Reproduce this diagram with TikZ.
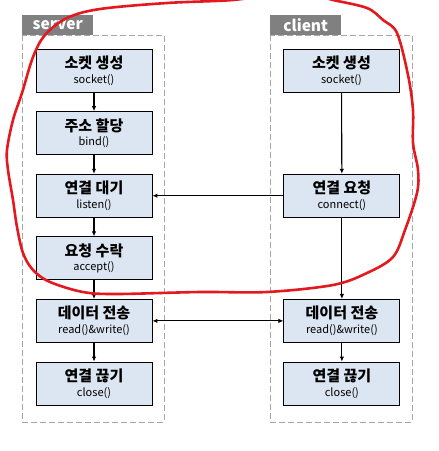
\documentclass[tikz,border=0pt]{standalone}
\usepackage{fontspec}
\setmainfont{Noto Sans CJK KR}
\usetikzlibrary{positioning,arrows.meta}

\definecolor{boxfill}{HTML}{DCE6F2}
\definecolor{tabgray}{HTML}{808080}
\definecolor{framegray}{HTML}{A6A6A6}
\definecolor{penred}{HTML}{E3191F}

\newcommand{\steptext}[2]{{\fontsize{15}{16}\selectfont\bfseries #1}\\[2.5pt]{\fontsize{11}{12}\selectfont #2}}

\begin{document}
\begin{tikzpicture}[
    x=1pt, y=-1pt,
    node distance=18.7pt,
    stepbox/.style={rectangle, draw=black, line width=0.9pt, fill=boxfill,
        minimum width=116pt, minimum height=43pt, inner sep=1pt, align=center},
    tab/.style={rectangle, fill=tabgray, text=white, anchor=south west,
        minimum width=71pt, minimum height=20pt, inner sep=0pt,
        font=\fontsize{15.5}{16}\selectfont\bfseries},
    frame/.style={draw=framegray, line width=0.9pt, dash pattern=on 6pt off 3pt},
    flow/.style={draw, line width=1.1pt, -{Latex[length=5pt,width=4.5pt]}},
    both/.style={draw, line width=1.1pt, {Latex[length=5pt,width=4.5pt]}-{Latex[length=5pt,width=4.5pt]}},
    scribble/.style={draw=penred, line width=2.6pt, line cap=round, line join=round}
]
\useasboundingbox[fill=white] (0,0) rectangle (439,451);

% server and client frames
\draw[frame] (22,35) rectangle (164,422);
\draw[frame] (270,35) rectangle (412,422);
\node[tab] (stab) at (22,35) {server};
\node[tab] (ctab) at (270,35) {client};

% server side
\node[stepbox] (ssock) at (94,70.5) {\steptext{소켓 생성}{socket()}};
\node[stepbox, below=of ssock] (sbind) {\steptext{주소 할당}{bind()}};
\node[stepbox, below=of sbind] (slisten) {\steptext{연결 대기}{listen()}};
\node[stepbox, below=of slisten] (saccept) {\steptext{요청 수락}{accept()}};
\node[stepbox, below=of saccept] (sdata) {\steptext{데이터 전송}{read()\&write()}};
\node[stepbox, below=of sdata] (sclose) {\steptext{연결 끊기}{close()}};

% client side
\node[stepbox] (csock) at (341.5,70.5) {\steptext{소켓 생성}{socket()}};
\node[stepbox, right=131pt of slisten] (cconn) {\steptext{연결 요청}{connect()}};
\node[stepbox, right=131pt of sdata] (cdata) {\steptext{데이터 전송}{read()\&write()}};
\node[stepbox, below=of cdata] (cclose) {\steptext{연결 끊기}{close()}};

% flow
\draw[flow] (ssock) -- (sbind);
\draw[flow] (sbind) -- (slisten);
\draw[flow] (slisten) -- (saccept);
\draw[flow] (saccept) -- (sdata);
\draw[flow] (sdata) -- (sclose);
\draw[flow] (csock) -- (cconn);
\draw[flow] (cconn) -- (cdata);
\draw[flow] (cdata) -- (cclose);
\draw[flow] (cconn) -- (slisten);
\draw[both] (sdata) -- (cdata);

% hand-drawn red loop
\begin{scope}
\clip (0,0) rectangle (439,451);
\draw[scribble] plot[smooth cycle, tension=0.55] coordinates {
    (275,-6) (233,0) (167,3) (100,9) (67,18) (45,35) (33,57) (22,93)
    (13,120) (7,150) (8,170) (13,200) (17,227) (23,253) (33,270) (50,282)
    (83,292) (117,294) (200,292) (267,292) (333,285) (367,273) (393,257)
    (405,230) (417,193) (418,170) (413,143) (413,110) (408,75) (397,33)
    (383,20) (367,8) (333,0) (317,-4)};
\end{scope}
\end{tikzpicture}
\end{document}
